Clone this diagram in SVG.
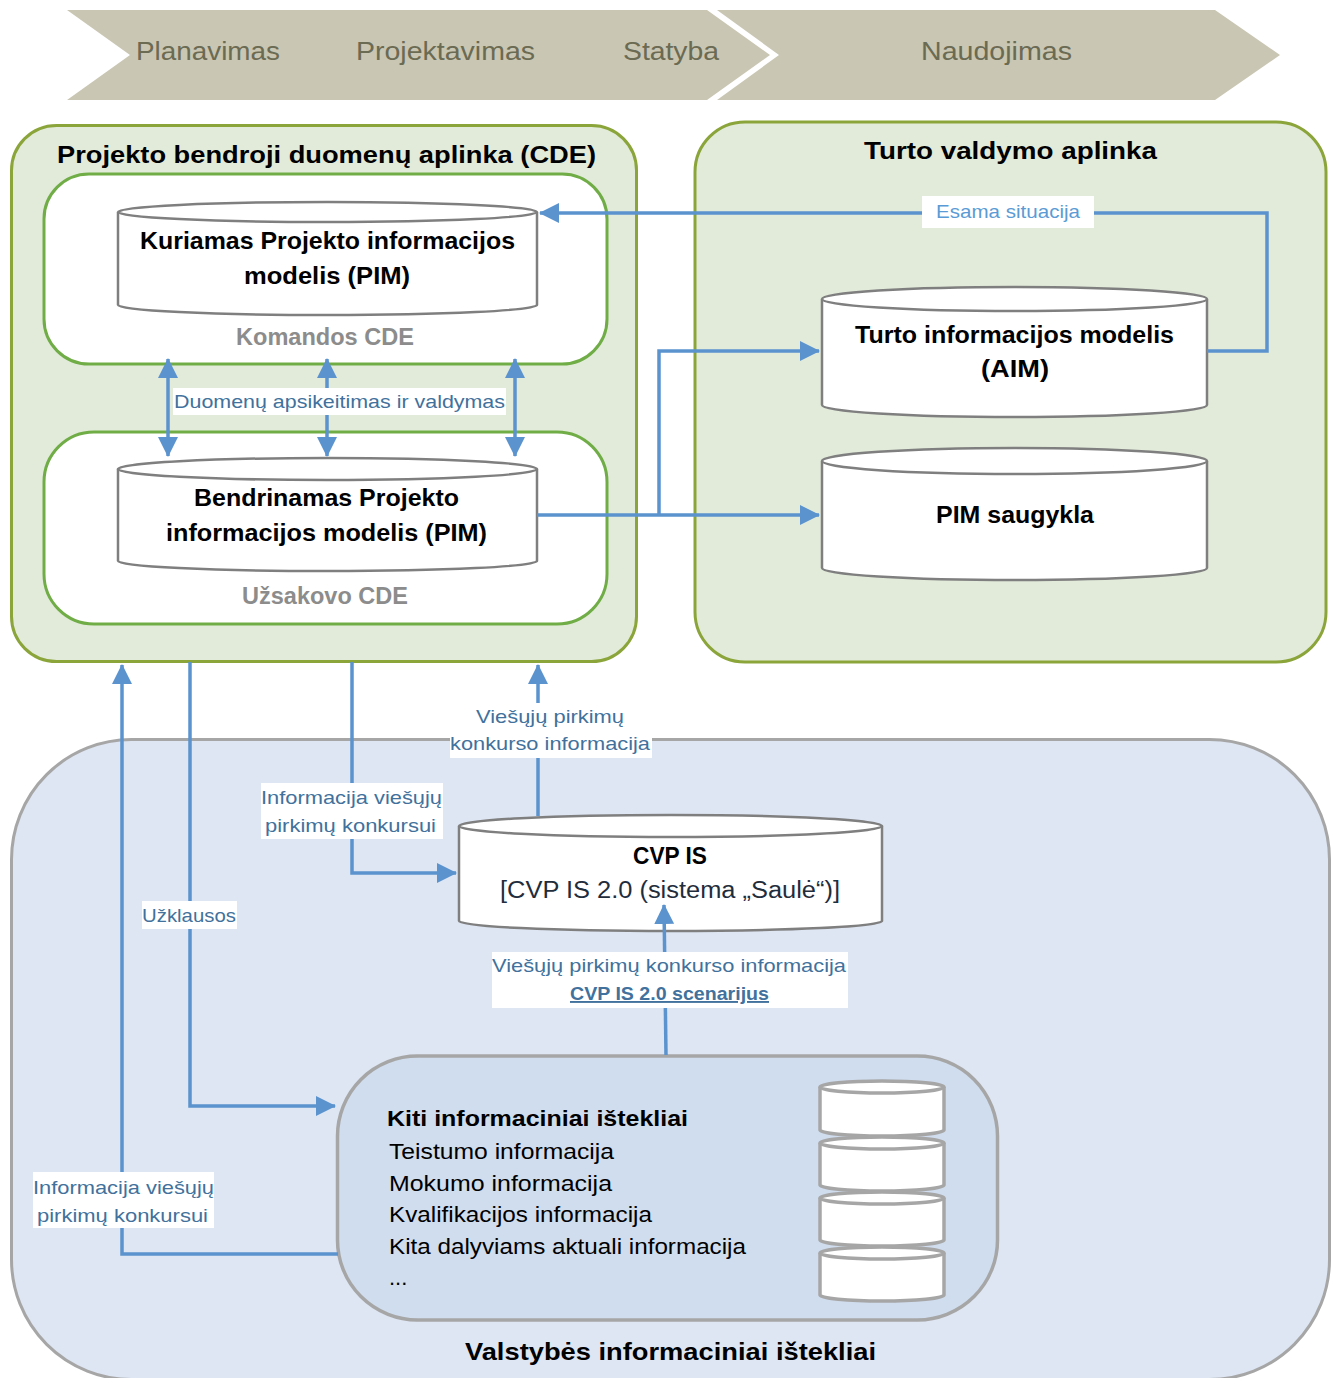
<svg xmlns="http://www.w3.org/2000/svg" width="1336" height="1378" viewBox="0 0 1336 1378">
<defs>
<marker id="ah" viewBox="0 0 20 20" markerWidth="20" markerHeight="20" refX="19" refY="10" orient="auto-start-reverse" markerUnits="userSpaceOnUse">
<path d="M0,0 L20,10 L0,20 z" fill="#5B93CE"/>
</marker>
<style>
text{font-family:"Liberation Sans",Arial,sans-serif}
.ban{font-size:25px;fill:#6B6A52}
.ttl{font-size:24px;font-weight:bold;fill:#000}
.cyl{font-size:23px;font-weight:bold;fill:#000}
.cde{font-size:23px;font-weight:bold;fill:#8C8C8C}
.lbl{font-size:19px;fill:#41719C}
.lbl2{font-size:19px;fill:#5B9BD5}
.kit{font-size:22px;fill:#000}
.conn{fill:none;stroke:#5B93CE;stroke-width:3.5}
.lb{fill:#fff}
.cylb{fill:#fff;stroke:#7F7F7F;stroke-width:2.5}
.scyl{fill:#fff;stroke:#A6A6A6;stroke-width:3.5}
</style>
</defs>

<g id="banner">
<polygon points="67,10 707,10 770,55 707,100 67,100 130,55" fill="#C9C6B3"/>
<polygon points="717,10 1215,10 1280,55 1215,100 717,100 779,55" fill="#C9C6B3"/>
<text class="ban" x="136" y="60" textLength="144" lengthAdjust="spacingAndGlyphs">Planavimas</text>
<text class="ban" x="356" y="60" textLength="179" lengthAdjust="spacingAndGlyphs">Projektavimas</text>
<text class="ban" x="623" y="60" textLength="96" lengthAdjust="spacingAndGlyphs">Statyba</text>
<text class="ban" x="921" y="60" textLength="151" lengthAdjust="spacingAndGlyphs">Naudojimas</text>
</g>

<g id="cde-panel">
<rect x="11.5" y="125.5" width="625" height="536" rx="45" fill="#E2EBDA" stroke="#8BA53B" stroke-width="3"/>
<text class="ttl" x="57" y="163" textLength="539" lengthAdjust="spacingAndGlyphs">Projekto bendroji duomenų aplinka (CDE)</text>
</g>

<g id="komandos-cde">
<rect x="44" y="174" width="563" height="190" rx="45" fill="#fff" stroke="#70AD47" stroke-width="3"/>
<text class="cde" x="236" y="345" textLength="178" lengthAdjust="spacingAndGlyphs">Komandos CDE</text>
</g>

<g id="kuriamas-pim">
<path class="cylb" d="M118,212 V305 A209.5,10 0 0 0 537,305 V212"/>
<ellipse class="cylb" cx="327.5" cy="212" rx="209.5" ry="10"/>
<text class="cyl" x="140" y="249" textLength="375" lengthAdjust="spacingAndGlyphs">Kuriamas Projekto informacijos</text>
<text class="cyl" x="244" y="284" textLength="166" lengthAdjust="spacingAndGlyphs">modelis (PIM)</text>
</g>

<g id="uzsakovo-cde">
<rect x="44" y="432" width="563" height="192" rx="50" fill="#fff" stroke="#70AD47" stroke-width="3"/>
<text class="cde" x="242" y="604" textLength="166" lengthAdjust="spacingAndGlyphs">Užsakovo CDE</text>
</g>

<g id="bendrinamas-pim">
<path class="cylb" d="M118,469 V561 A209.5,10 0 0 0 537,561 V469"/>
<ellipse class="cylb" cx="327.5" cy="469" rx="209.5" ry="11"/>
<text class="cyl" x="194" y="506" textLength="265" lengthAdjust="spacingAndGlyphs">Bendrinamas Projekto</text>
<text class="cyl" x="166" y="541" textLength="321" lengthAdjust="spacingAndGlyphs">informacijos modelis (PIM)</text>
</g>

<g id="turto-panel">
<rect x="695" y="122" width="631" height="540" rx="50" fill="#E2EBDA" stroke="#8BA53B" stroke-width="3"/>
<text class="ttl" x="864" y="159" textLength="293" lengthAdjust="spacingAndGlyphs">Turto valdymo aplinka</text>
</g>

<g id="aim">
<path class="cylb" d="M822,299 V405 A192.5,12 0 0 0 1207,405 V299"/>
<ellipse class="cylb" cx="1014.5" cy="299" rx="192.5" ry="12"/>
<text class="cyl" x="855" y="343" textLength="319" lengthAdjust="spacingAndGlyphs">Turto informacijos modelis</text>
<text class="cyl" x="981" y="377" textLength="68" lengthAdjust="spacingAndGlyphs">(AIM)</text>
</g>

<g id="pim-saugykla">
<path class="cylb" d="M822,461 V568 A192.5,12 0 0 0 1207,568 V461"/>
<ellipse class="cylb" cx="1014.5" cy="461" rx="192.5" ry="13"/>
<text class="cyl" x="936" y="523" textLength="158" lengthAdjust="spacingAndGlyphs">PIM saugykla</text>
</g>

<g id="valstybes-panel">
<rect x="11.5" y="739.5" width="1318" height="640" rx="120" fill="#DEE6F3" stroke="#A6A6A6" stroke-width="3"/>
<text class="ttl" x="465" y="1360" textLength="411" lengthAdjust="spacingAndGlyphs">Valstybės informaciniai ištekliai</text>
</g>

<g id="cvp-is">
<path class="cylb" d="M459,826 V921 A211.5,10 0 0 0 882,921 V826"/>
<ellipse class="cylb" cx="670.5" cy="826" rx="211.5" ry="11"/>
<text class="cyl" x="633" y="864" textLength="74" lengthAdjust="spacingAndGlyphs">CVP IS</text>
<text x="500" y="898" font-size="23" fill="#1F2D3D" textLength="340" lengthAdjust="spacingAndGlyphs">[CVP IS 2.0 (sistema „Saulė“)]</text>
</g>

<g id="kiti">
<rect x="337.5" y="1056" width="660" height="264" rx="80" fill="#D0DDEE" stroke="#A6A6A6" stroke-width="3.5"/>
<text class="kit" x="387" y="1126" font-weight="bold" textLength="301" lengthAdjust="spacingAndGlyphs">Kiti informaciniai ištekliai</text>
<text class="kit" x="389" y="1159" textLength="225" lengthAdjust="spacingAndGlyphs">Teistumo informacija</text>
<text class="kit" x="389" y="1191" textLength="223" lengthAdjust="spacingAndGlyphs">Mokumo informacija</text>
<text class="kit" x="389" y="1222" textLength="263" lengthAdjust="spacingAndGlyphs">Kvalifikacijos informacija</text>
<text class="kit" x="389" y="1254" textLength="357" lengthAdjust="spacingAndGlyphs">Kita dalyviams aktuali informacija</text>
<text class="kit" x="389" y="1285">...</text>
<g id="kiti-db">
<path class="scyl" d="M820,1253 V1295 A62,6 0 0 0 944,1295 V1253"/>
<ellipse class="scyl" cx="882" cy="1253" rx="62" ry="6"/>
<path class="scyl" d="M820,1198 V1240 A62,6 0 0 0 944,1240 V1198"/>
<ellipse class="scyl" cx="882" cy="1198" rx="62" ry="6"/>
<path class="scyl" d="M820,1143 V1185 A62,6 0 0 0 944,1185 V1143"/>
<ellipse class="scyl" cx="882" cy="1143" rx="62" ry="6"/>
<path class="scyl" d="M820,1087 V1130 A62,6 0 0 0 944,1130 V1087"/>
<ellipse class="scyl" cx="882" cy="1087" rx="62" ry="6"/>
</g>
</g>

<g id="connectors">
<path class="conn" d="M168,359 V456" marker-start="url(#ah)" marker-end="url(#ah)"/>
<path class="conn" d="M327,359 V456" marker-start="url(#ah)" marker-end="url(#ah)"/>
<path class="conn" d="M515,359 V456" marker-start="url(#ah)" marker-end="url(#ah)"/>
<path class="conn" d="M1207,351 H1267 V213 H540" marker-end="url(#ah)"/>
<path class="conn" d="M537,515 H819" marker-end="url(#ah)"/>
<path class="conn" d="M659,515 V351 H819" marker-end="url(#ah)"/>
<path class="conn" d="M338,1254 H122 V665" marker-end="url(#ah)"/>
<path class="conn" d="M190,662 V1106 H335" marker-end="url(#ah)"/>
<path class="conn" d="M352,662 V873 H456" marker-end="url(#ah)"/>
<path class="conn" d="M538,816 V665" marker-end="url(#ah)"/>
<path class="conn" d="M666,1055 L664,905" marker-end="url(#ah)"/>

<g id="connector-labels">
<rect class="lb" x="173" y="388" width="333" height="27"/>
<text class="lbl" x="174" y="408" textLength="331" lengthAdjust="spacingAndGlyphs">Duomenų apsikeitimas ir valdymas</text>
<rect class="lb" x="922" y="196" width="172" height="32"/>
<text class="lbl2" x="936" y="218" textLength="144" lengthAdjust="spacingAndGlyphs">Esama situacija</text>
<rect class="lb" x="450" y="703" width="202" height="55"/>
<text class="lbl" x="476" y="723" textLength="148" lengthAdjust="spacingAndGlyphs">Viešųjų pirkimų</text>
<text class="lbl" x="450" y="750" textLength="200" lengthAdjust="spacingAndGlyphs">konkurso informacija</text>
<rect class="lb" x="261" y="783" width="182" height="56"/>
<text class="lbl" x="261" y="804" textLength="181" lengthAdjust="spacingAndGlyphs">Informacija viešųjų</text>
<text class="lbl" x="265" y="832" textLength="171" lengthAdjust="spacingAndGlyphs">pirkimų konkursui</text>
<rect class="lb" x="142" y="901" width="95" height="28"/>
<text class="lbl" x="142" y="922" textLength="94" lengthAdjust="spacingAndGlyphs">Užklausos</text>
<rect class="lb" x="492" y="952" width="356" height="56"/>
<text class="lbl" x="492" y="972" textLength="354" lengthAdjust="spacingAndGlyphs">Viešųjų pirkimų konkurso informacija</text>
<text class="lbl" x="570" y="1000" font-weight="bold" text-decoration="underline" textLength="199" lengthAdjust="spacingAndGlyphs">CVP IS 2.0 scenarijus</text>
<rect class="lb" x="33" y="1172" width="181" height="56"/>
<text class="lbl" x="33" y="1194" textLength="181" lengthAdjust="spacingAndGlyphs">Informacija viešųjų</text>
<text class="lbl" x="37" y="1222" textLength="171" lengthAdjust="spacingAndGlyphs">pirkimų konkursui</text>
</g>
</g>
</svg>
